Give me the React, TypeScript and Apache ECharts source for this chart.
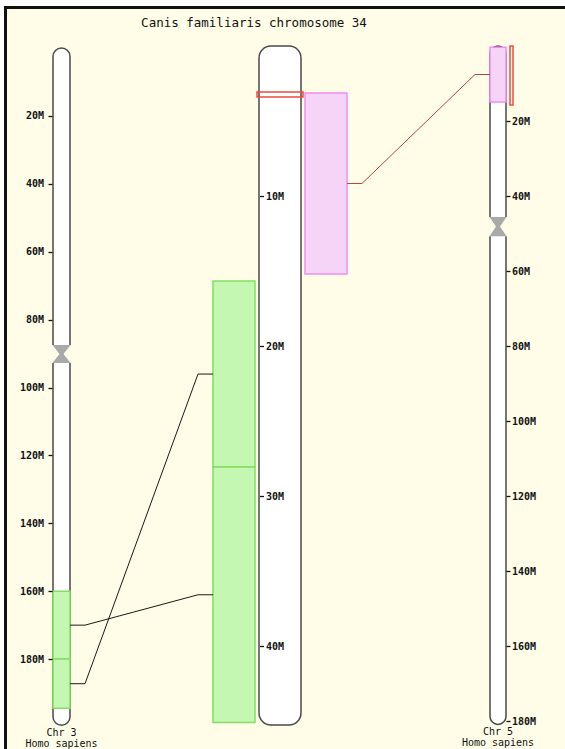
import { useEffect, useRef } from 'react';
import * as echarts from 'echarts';

const TITLE = 'Canis familiaris chromosome 34';

// Chromosomes drawn left to right: human 3, dog 34, human 5 (lengths in Mb)
const chromosomeNames = ['Chr 3', '', 'Chr 5'];
const chromosomeSpecies = ['Homo sapiens', '', 'Homo sapiens'];
const chromosomeLengths = [199.5, 45.27, 180.9];
const centromereBands: (number[] | null)[] = [[87.5, 92.8], null, [45.6, 50.7]];

// Axis ticks (Mb)
const chr3Ticks = [20, 40, 60, 80, 100, 120, 140, 160, 180];
const cfa34Ticks = [10, 20, 30, 40];
const chr5Ticks = [20, 40, 60, 80, 100, 120, 140, 160, 180];

// Syntenic segments [start, end] in Mb
const chr3Segments = [[160, 180], [180, 194.5]];
const cfa34GreenSegments = [[15.67, 28.07], [28.07, 45.1]];
const cfa34PinkSegments = [[3.13, 15.2]];
const chr5Segments = [[0.3, 14.9]];

// Highlighted regions [start, end] in Mb
const cfa34Highlight = [[3.07, 3.4]];
const chr5Highlight = [[0, 15.7]];

// Links: [source segment index, target segment index]
const chr3ToCfa34 = [[0, 1], [1, 0]];
const cfa34ToChr5 = [[0, 0]];

const MONO = '"DejaVu Sans Mono", "Liberation Mono", monospace';
const OUTLINE = '#4a4a4a';
const BG = '#FFFDE8';

const GREEN = { fill: '#C4F7B2', stroke: '#84DE62', lineWidth: 1.5 };
const PINK = { fill: '#F6D4F8', stroke: '#EE8DF0', lineWidth: 1.5 };
const RED = { fill: 'none', stroke: '#EE4B3B', lineWidth: 1.5 };

type Lane = { offset: number; width: number | null };

const bodyRenderer = (idx: number) => (_params: any, api: any) => {
  const len = chromosomeLengths[idx];
  const [x0, yTop] = api.coord([0, 0]);
  const [x1, yBot] = api.coord([1, len]);
  const w = x1 - x0;
  const xc = (x0 + x1) / 2;
  const children: any[] = [];
  const cen = centromereBands[idx];
  if (!cen) {
    children.push({
      type: 'rect',
      shape: { x: x0, y: yTop, width: w, height: yBot - yTop, r: 12 },
      style: { fill: '#fff', stroke: OUTLINE, lineWidth: 1.5 },
    });
  } else {
    const r = w / 2;
    const yCs = api.coord([0, cen[0]])[1];
    const yCe = api.coord([0, cen[1]])[1];
    const yMid = (yCs + yCe) / 2;
    const pArm = `M${x0} ${yCs}L${x0} ${yTop + r}A${r} ${r} 0 0 1 ${x1} ${yTop + r}L${x1} ${yCs}`;
    const qArm = `M${x1} ${yCe}L${x1} ${yBot - r}A${r} ${r} 0 0 1 ${x0} ${yBot - r}L${x0} ${yCe}`;
    children.push(
      { type: 'path', shape: { pathData: pArm + 'Z' }, style: { fill: '#fff' } },
      { type: 'path', shape: { pathData: pArm }, style: { fill: 'none', stroke: OUTLINE, lineWidth: 1.5 } },
      { type: 'path', shape: { pathData: qArm + 'Z' }, style: { fill: '#fff' } },
      { type: 'path', shape: { pathData: qArm }, style: { fill: 'none', stroke: OUTLINE, lineWidth: 1.5 } },
      {
        type: 'polygon',
        shape: {
          points: [
            [x0 - 0.5, yCs], [x1 + 0.5, yCs], [xc + 2, yMid],
            [x1 + 0.5, yCe], [x0 - 0.5, yCe], [xc - 2, yMid],
          ],
        },
        style: { fill: '#A9A9A9' },
      },
    );
  }
  if (chromosomeNames[idx]) {
    children.push(
      {
        type: 'text',
        style: {
          x: xc, y: yBot + 7.5, text: chromosomeNames[idx], align: 'center', verticalAlign: 'middle',
          font: `10px ${MONO}`, fill: '#111',
        },
      },
      {
        type: 'text',
        style: {
          x: xc, y: yBot + 18, text: chromosomeSpecies[idx], align: 'center', verticalAlign: 'middle',
          font: `10px ${MONO}`, fill: '#111',
        },
      },
    );
  }
  return { type: 'group', children };
};

const segmentRenderer = (lane: Lane, style: any) => (_params: any, api: any) => {
  const xa = api.coord([0, 0])[0];
  const xb = api.coord([1, 0])[0];
  const x = xa + lane.offset;
  const w = lane.width == null ? xb - xa : lane.width;
  const y0 = api.coord([0, api.value(0)])[1];
  const y1 = api.coord([0, api.value(1)])[1];
  return { type: 'rect', shape: { x, y: y0, width: w, height: y1 - y0 }, style };
};

// Short tick dash next to a chromosome edge; side: 'left-out' | 'left-in' | 'right-out'
const tickRenderer = (side: string) => (_params: any, api: any) => {
  const [xa, y] = api.coord([0, api.value(0)]);
  const xb = api.coord([1, 0])[0];
  let xs = xa - 4.5;
  let xe = xa - 0.5;
  if (side === 'left-in') { xs = xa + 1; xe = xa + 5; }
  if (side === 'right-out') { xs = xb + 0.5; xe = xb + 4.5; }
  return {
    type: 'line',
    shape: { x1: xs, y1: Math.round(y) + 0.5, x2: xe, y2: Math.round(y) + 0.5 },
    style: { stroke: '#111', lineWidth: 1.3 },
  };
};

const GREEN_LANE: Lane = { offset: -46, width: 42 };
const PINK_LANE: Lane = { offset: 46, width: 42 };

const axisLabelStyle = {
  fontFamily: MONO,
  fontSize: 10,
  fontWeight: 'bold' as const,
  color: '#111',
  formatter: '{value}M',
};

function makeYAxis(gridIndex: number, max: number, interval: number, ticks: number[], position: 'left' | 'right', inside: boolean, margin: number) {
  return {
    type: 'value',
    gridIndex,
    inverse: true,
    min: 0,
    max,
    interval,
    position,
    z: 10,
    axisLine: { show: false },
    splitLine: { show: false },
    axisTick: { show: false },
    axisLabel: { ...axisLabelStyle, inside, margin, customValues: ticks },
  };
}

export default function App() {
  const ref = useRef<HTMLDivElement>(null);

  useEffect(() => {
    if (!ref.current) return;
    const chart = echarts.init(ref.current, null, { renderer: 'svg' });

    const series: any[] = [];
    [0, 1, 2].forEach((i) => {
      series.push({
        type: 'custom', xAxisIndex: i, yAxisIndex: i, clip: false, silent: true, z: 2,
        data: [[0, chromosomeLengths[i]]], renderItem: bodyRenderer(i),
      });
    });
    const addSegments = (axis: number, data: number[][], lane: Lane, style: any, z: number) => {
      series.push({
        type: 'custom', xAxisIndex: axis, yAxisIndex: axis, clip: false, silent: true, z,
        data, renderItem: segmentRenderer(lane, style),
      });
    };
    addSegments(0, chr3Segments, { offset: 0, width: null }, GREEN, 3);
    addSegments(1, cfa34GreenSegments, GREEN_LANE, GREEN, 3);
    addSegments(1, cfa34PinkSegments, PINK_LANE, PINK, 3);
    addSegments(2, chr5Segments, { offset: 0, width: null }, PINK, 3);
    addSegments(1, cfa34Highlight, { offset: -2, width: 46 }, RED, 4);
    addSegments(2, chr5Highlight, { offset: 20, width: 3 }, RED, 4);

    const addTicks = (axis: number, ticks: number[], side: string) => {
      series.push({
        type: 'custom', xAxisIndex: axis, yAxisIndex: axis, clip: false, silent: true, z: 6,
        data: ticks.map((t) => [t]), renderItem: tickRenderer(side),
      });
    };
    addTicks(0, chr3Ticks, 'left-out');
    addTicks(1, cfa34Ticks, 'left-in');
    addTicks(2, chr5Ticks, 'right-out');

    chart.setOption({
      animation: false,
      backgroundColor: '#fff',
      grid: [
        { left: 53, width: 17, top: 48, height: 679 },
        { left: 259, width: 42, top: 46, height: 690 },
        { left: 490, width: 16, top: 46, height: 690 },
      ],
      xAxis: [0, 1, 2].map((i) => ({ type: 'value', gridIndex: i, min: 0, max: 1, show: false })),
      yAxis: [
        makeYAxis(0, 200, 20, chr3Ticks, 'left', false, 9),
        makeYAxis(1, 46, 2, cfa34Ticks, 'left', true, 7),
        makeYAxis(2, 184, 4, chr5Ticks, 'right', false, 6),
      ],
      graphic: [
        {
          id: 'frame', type: 'rect', silent: true, z: -10,
          shape: { x: 5.5, y: 7.5, width: 640, height: 820 },
          style: { fill: BG, stroke: '#111', lineWidth: 3 },
        },
        {
          id: 'title', type: 'text', silent: true,
          style: {
            x: 254, y: 22, text: TITLE, align: 'center', verticalAlign: 'middle',
            font: `12.5px ${MONO}`, fill: '#111',
          },
        },
      ],
      series,
    });

    // Connector lines between syntenic segments, positioned through each chromosome's axes
    const yPix = (axis: number, v: number) => chart.convertToPixel({ yAxisIndex: axis } as any, v) as unknown as number;
    const xPix = (axis: number, v: number) => chart.convertToPixel({ xAxisIndex: axis } as any, v) as unknown as number;
    const mid = (s: number[]) => (s[0] + s[1]) / 2;
    const STUB = 15;
    const links: any[] = [];
    chr3ToCfa34.forEach(([s, t], k) => {
      const xs = xPix(0, 1);
      const xe = xPix(1, 0) + GREEN_LANE.offset;
      const ys = yPix(0, mid(chr3Segments[s]));
      const ye = yPix(1, mid(cfa34GreenSegments[t]));
      links.push({
        id: `link-a${k}`, type: 'polyline', silent: true, z: 5,
        shape: { points: [[xs, ys], [xs + STUB, ys], [xe - STUB, ye], [xe, ye]] },
        style: { stroke: '#1a1a1a', lineWidth: 1, fill: 'none' },
      });
    });
    cfa34ToChr5.forEach(([s, t], k) => {
      const xs = xPix(1, 0) + PINK_LANE.offset + (PINK_LANE.width as number);
      const xe = xPix(2, 0);
      const ys = yPix(1, mid(cfa34PinkSegments[s]));
      const ye = yPix(2, mid(chr5Segments[t]));
      links.push({
        id: `link-b${k}`, type: 'polyline', silent: true, z: 5,
        shape: { points: [[xs, ys], [xs + STUB, ys], [xe - STUB, ye], [xe, ye]] },
        style: { stroke: '#B8433A', lineWidth: 1, fill: 'none' },
      });
    });
    chart.setOption({ graphic: links });

    return () => chart.dispose();
  }, []);

  return (
    <div
      ref={ref}
      style={{ position: 'absolute', left: 0, top: 0, width: 565, height: 749 }}
    />
  );
}
